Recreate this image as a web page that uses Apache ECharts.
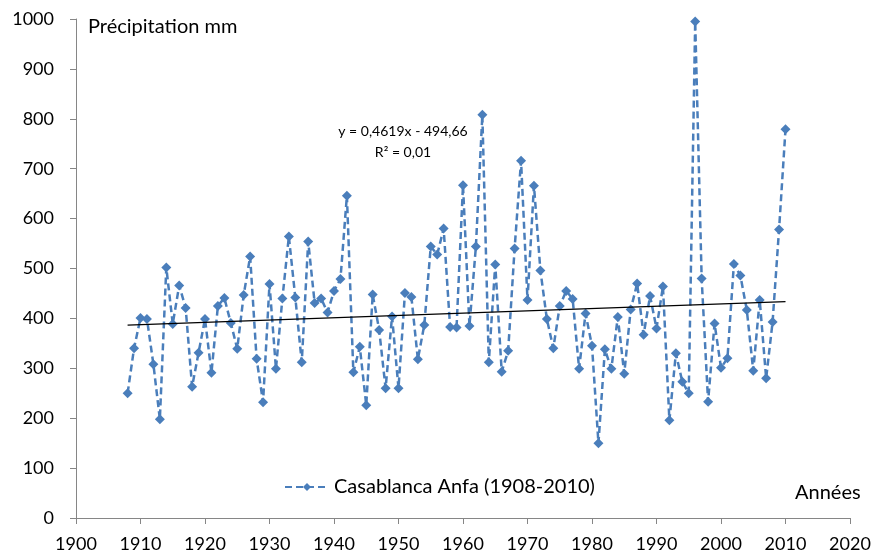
<!DOCTYPE html>
<html>
<head>
<meta charset="utf-8">
<script src="https://cdn.jsdelivr.net/npm/echarts@6/dist/echarts.min.js"></script>
<style>
html,body{margin:0;padding:0;background:#fff;}
#chart{width:874px;height:557px;}
</style>
</head>
<body>
<div id="chart"></div>
<script>
var startYear = 1908;
var precipitation = [
  250, 340, 401, 399, 308, 198, 502, 389, 466, 421,
  263, 331, 399, 291, 425, 441, 391, 339, 447, 524,
  319, 232, 469, 299, 440, 564, 442, 312, 554, 431,
  440, 412, 455, 479, 646, 292, 343, 226, 448, 377,
  260, 404, 260, 451, 443, 318, 387, 544, 528, 580,
  383, 382, 667, 385, 544, 808, 312, 508, 293, 335,
  540, 716, 437, 666, 496, 399, 340, 425, 455, 439,
  299, 410, 345, 150, 338, 299, 403, 289, 418, 470,
  367, 445, 380, 464, 196, 330, 273, 250, 995, 480,
  233, 390, 301, 320, 509, 486, 417, 295, 437, 280,
  393, 578, 779
];
var years = precipitation.map(function (v, i) { return startYear + i; });
var trendSlope = 0.4619;
var trendIntercept = -494.66;
var trendYears = [1908, 2010];
var xTicks = [1900, 2020, 10];
var yTicks = [0, 1000, 100];
var seriesName = 'Casablanca Anfa (1908-2010)';
var yTitle = 'Précipitation mm';
var xTitle = 'Années';
var eqLine1 = 'y = 0,4619x - 494,66';
var eqLine2 = 'R² = 0,01';

var mainData = years.map(function (y, i) { return [y, precipitation[i]]; });
var trendData = trendYears.map(function (y) { return [y, trendSlope * y + trendIntercept]; });

var FONT = 'Lato';
var plain = function (v) { return String(v); };
var chart = echarts.init(document.getElementById('chart'));
chart.setOption({
  animation: false,
  backgroundColor: '#ffffff',
  grid: { left: 76, right: 24, top: 19, bottom: 39, containLabel: false },
  xAxis: {
    type: 'value', min: xTicks[0], max: xTicks[1], interval: xTicks[2],
    axisLine: { show: true, lineStyle: { color: '#868686', width: 1 } },
    axisTick: { show: true, length: 6, lineStyle: { color: '#868686' } },
    splitLine: { show: false },
    axisLabel: { color: '#000', fontFamily: FONT, fontSize: 18, margin: 17, formatter: plain }
  },
  yAxis: {
    type: 'value', min: yTicks[0], max: yTicks[1], interval: yTicks[2],
    axisLine: { show: true, lineStyle: { color: '#868686', width: 1 } },
    axisTick: { show: true, length: 6, lineStyle: { color: '#868686' } },
    splitLine: { show: false },
    axisLabel: { color: '#000', fontFamily: FONT, fontSize: 18, margin: 22, formatter: plain }
  },
  legend: {
    data: [seriesName],
    left: 279, top: 472,
    itemWidth: 44, itemHeight: 10, itemGap: 6,
    textStyle: { color: '#000', fontFamily: FONT, fontSize: 20 }
  },
  series: [
    {
      name: seriesName,
      type: 'line',
      data: mainData,
      symbol: 'diamond',
      symbolSize: 10,
      itemStyle: { color: '#4a7ebb' },
      lineStyle: { color: '#4a7ebb', width: 2.5, type: [7, 4] },
      z: 3
    },
    {
      name: 'trend',
      type: 'line',
      data: trendData,
      symbol: 'none',
      lineStyle: { color: '#000', width: 1.3 },
      z: 4
    }
  ],
  graphic: [
    { type: 'text', left: 88, top: 17, style: { text: yTitle, fontFamily: FONT, fontSize: 20, fill: '#000' } },
    { type: 'text', left: 795, top: 483, style: { text: xTitle, fontFamily: FONT, fontSize: 20, fill: '#000' } },
    { type: 'text', x: 403, y: 131, style: { text: eqLine1, fontFamily: FONT, fontSize: 14, fill: '#000', align: 'center', verticalAlign: 'middle' } },
    { type: 'text', x: 403, y: 152, style: { text: eqLine2, fontFamily: FONT, fontSize: 14, fill: '#000', align: 'center', verticalAlign: 'middle' } }
  ]
});
</script>
</body>
</html>
